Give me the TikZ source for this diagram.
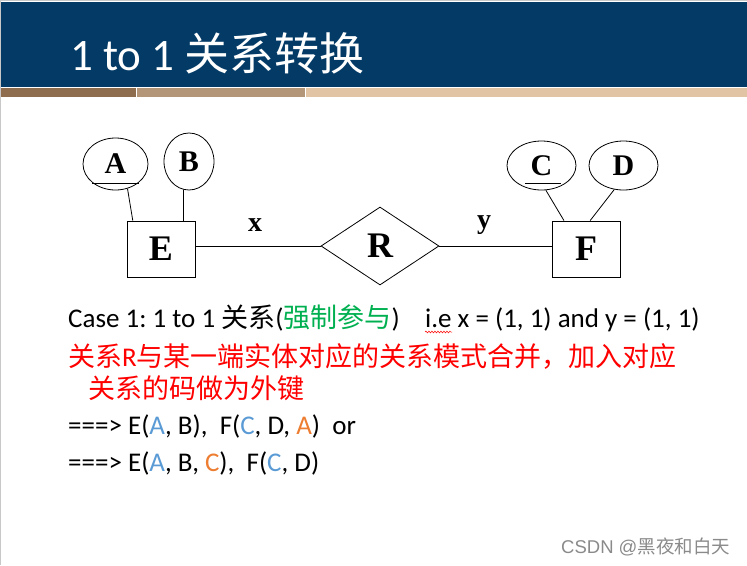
\documentclass[tikz,border=0pt]{standalone}
\usepackage{fontspec}
\setmainfont{Carlito}
\newfontfamily\cjk{Noto Sans CJK SC}
\newfontfamily\tms{Liberation Serif}
\newfontfamily\wmfont{Liberation Sans}
\usetikzlibrary{shapes.geometric,calc,decorations.pathmorphing}
\frenchspacing
\definecolor{banner}{HTML}{033A66}
\definecolor{stripeA}{HTML}{8E6C4E}
\definecolor{stripeB}{HTML}{B39678}
\definecolor{stripeC}{HTML}{E0C4A4}
\definecolor{cblue}{HTML}{5B9BD5}
\definecolor{corange}{HTML}{ED7D31}
\definecolor{cgreen}{HTML}{00B050}
\definecolor{cred}{HTML}{FF0000}
\definecolor{wmgray}{HTML}{8A8A8A}
\definecolor{edgegray}{HTML}{C8C8C8}
\tikzset{
  ent/.style={draw, rectangle, line width=0.8pt, minimum width=68pt, minimum height=56pt, inner sep=0pt, font=\tms\bfseries\fontsize{36}{40}\selectfont},
  attr/.style={draw, ellipse, line width=0.8pt, inner sep=0pt, font=\tms\bfseries\fontsize{30}{34}\selectfont},
  rel/.style={draw, diamond, line width=0.8pt, minimum width=118pt, minimum height=78pt, inner sep=0pt, font=\tms\bfseries\fontsize{36}{40}\selectfont},
  conn/.style={line width=0.8pt},
  lbl/.style={inner sep=0pt, font=\tms\bfseries\fontsize{28}{32}\selectfont},
  txt/.style={anchor=base west, inner sep=0pt, font=\fontsize{27}{32}\selectfont}
}
\begin{document}
\begin{tikzpicture}[x=1pt,y=-1pt]
\useasboundingbox (0,0) rectangle (747,565);
% banner
\fill[banner] (0,2) rectangle (747,87);
\fill[stripeA] (0,88) rectangle (136,97);
\fill[stripeB] (137,88) rectangle (305,97);
\fill[stripeC] (306,88) rectangle (747,97);
\draw[edgegray, line width=1.2pt] (0.6,565) -- (0.6,0.6) -- (747,0.6);
\node[anchor=base west, inner sep=0pt, text=white, font=\fontsize{45}{49}\selectfont] (title) at (70,70) {1 to 1 {\cjk 关系转换}};
% ER diagram
\node[ent] (E) at (161,249) {E};
\node[ent] (F) at (586,249) {F};
\node[rel] (R) at (380,246) {R};
\node[attr, minimum width=65pt, minimum height=52pt] (A) at (115.5,164) {A};
\node[attr, minimum width=50pt, minimum height=57pt] (B) at (189,161.5) {B};
\node[attr, minimum width=69pt, minimum height=49pt] (C) at (541.5,165.5) {C};
\node[attr, minimum width=69pt, minimum height=49pt] (D) at (623.5,165.5) {D};
\draw[conn] ([shift={(-23.5,19)}]A.center) -- ([shift={(23.5,19)}]A.center);
\draw[conn] ([shift={(-16.5,17.5)}]C.center) -- ([shift={(19.5,17.5)}]C.center);
\draw[conn] (A.-64) -- ($(E.north west)!0.09!(E.north east)$);
\draw[conn] (B.-102) -- (B.-102 |- E.north);
\draw[conn] (C.-80) -- ($(F.north west)!0.18!(F.north east)$);
\draw[conn] (D.-111) -- ($(F.north west)!0.56!(F.north east)$);
\draw[conn] (R.west) -- (R.west -| E.east);
\draw[conn] (R.east) -- (R.east -| F.west);
\node[lbl] (x) at (255,225) {x};
\node[lbl] (y) at (484,225) {y};
% text
\node[txt] (l1a) at (68,327) {Case 1: 1 to 1 {\cjk 关系}({\cjk\color{cgreen}强制参与})};
\node[txt] (l1b) at (425,327) {i.e x = (1, 1) and y = (1, 1)};
\draw[cred, line width=0.5pt, decorate, decoration={snake, amplitude=0.9pt, segment length=3pt}] ([shift={(0,5)}]l1b.base west) -- ([shift={(27,5)}]l1b.base west);
\node[txt, text=cred] (l2) at (68,366) {{\cjk 关系}R{\cjk 与某一端实体对应的关系模式合并，加入对应}};
\node[txt, text=cred] (l3) at (88,398) {\cjk 关系的码做为外键};
\node[txt] (l4) at (68,434) {===> E({\color{cblue}A}, B),\ \ F({\color{cblue}C}, D, {\color{corange}A})\ \ or};
\node[txt] (l5) at (68,471) {===> E({\color{cblue}A}, B, {\color{corange}C}),\ \ F({\color{cblue}C}, D)};
\node[anchor=base west, inner sep=0pt, text=wmgray, font=\wmfont\fontsize{18.5}{20}\selectfont] (wm) at (561,553) {CSDN @{\cjk 黑夜和白天}};
\end{tikzpicture}
\end{document}
